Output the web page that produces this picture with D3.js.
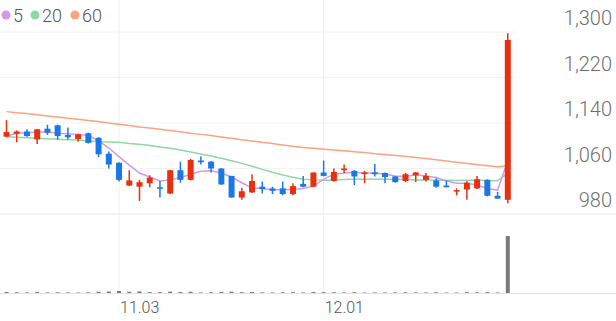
<!DOCTYPE html>
<html>
<head>
<meta charset="utf-8">
<script src="https://cdn.jsdelivr.net/npm/d3@7/dist/d3.min.js"></script>
<style>
  body { margin: 0; background: #fff; }
  text { font-family: Roboto, "Noto Sans", sans-serif; }
</style>
</head>
<body>
<div id="chart"></div>
<script>
const dates = ["10.17","10.20","10.21","10.22","10.23","10.24","10.27","10.28","10.29","10.30",
  "10.31","11.03","11.04","11.05","11.06","11.07","11.10","11.11","11.12","11.13",
  "11.14","11.17","11.18","11.19","11.20","11.21","11.24","11.25","11.26","11.27",
  "11.28","12.01","12.02","12.03","12.04","12.05","12.08","12.09","12.10","12.11",
  "12.12","12.15","12.16","12.17","12.18","12.19","12.22","12.23","12.24","12.26"];

const opens  = [1116,1121,1125,1111,1130,1136,1119,1112,1122,1114,1086,1070,1030,1028,1034,1027,1016,1057,1040,1074,
  1072,1060,1047,1009,1018,1028,1025,1025,1015,1033,1028,1053,1038,1057,1056,1052,1053,1052,1046,1038,
  1048,1040,1039,1030,1020,1023,1025,1040,1012,1005];
const highs  = [1145,1127,1129,1129,1137,1137,1132,1121,1123,1115,1090,1071,1057,1040,1048,1038,1058,1072,1077,1081,
  1073,1061,1047,1026,1050,1037,1028,1037,1034,1047,1053,1074,1060,1067,1057,1056,1068,1053,1047,1052,
  1054,1052,1043,1039,1025,1038,1047,1041,1019,1298];
const lows   = [1115,1106,1116,1103,1119,1111,1111,1107,1104,1080,1060,1037,1029,1003,1027,1009,1015,1035,1039,1067,
  1053,1031,1009,1005,1017,1016,1015,1013,1013,1027,1027,1046,1037,1052,1031,1034,1046,1034,1035,1036,
  1036,1037,1026,1027,1013,1005,1024,1011,1007,999];
const closes = [1124,1125,1117,1129,1123,1117,1115,1120,1105,1085,1067,1040,1039,1036,1044,1025,1057,1040,1075,1071,
  1060,1032,1009,1020,1038,1024,1021,1015,1029,1028,1053,1047,1054,1060,1046,1053,1050,1045,1036,1050,
  1053,1047,1028,1027,1022,1035,1041,1012,1007,1286];
const volumes = [210000,160000,120000,190000,110000,150000,120000,90000,140000,260000,300000,420000,260000,330000,180000,170000,280000,200000,260000,120000,
  150000,230000,280000,170000,220000,130000,110000,140000,160000,120000,200000,180000,150000,110000,160000,100000,120000,110000,130000,140000,
  120000,110000,150000,100000,90000,170000,140000,180000,120000,11800000];

const ma5  = [1117,1122,1123,1124,1124,1122,1121,1120,1118,1109,1096,1081,1066,1052,1045,1038,1040,1044,1050,1055,
  1056,1052,1045,1035,1026,1025,1022,1023,1023,1025,1029,1041,1050,1052,1053,1052,1052,1050,1047,1046,
  1049,1047,1044,1038,1034,1034,1031,1025,1022,1073];
const ma20 = [1116,1115,1114,1113,1112.5,1111.5,1110.5,1110,1109,1107,1106.5,1106,1104,1102.5,1100.5,1098,1095.5,1092.5,1089,1085.5,
  1082,1078,1073.5,1069,1064,1058.5,1053.5,1048.5,1044.5,1041,1040,1039.5,1039.5,1040.5,1041,1041,1041,1041,1041,1040.5,
  1040,1040,1039.5,1039.5,1039,1039.5,1039.5,1039,1038.5,1052];
const ma60 = [1160,1158,1156.5,1154.5,1152.5,1150.5,1148.5,1146.5,1144.5,1142.5,1140,1138,1135.5,1133,1131,1129,1127,1124.5,1122,1120,
  1118,1115.5,1113,1110.5,1108.5,1106,1104,1101.5,1099,1097,1095.5,1094,1092.5,1091,1089.5,1088,1086,1084.5,1083,1081.5,
  1079.5,1077.5,1075.5,1073,1071,1069,1067,1065,1063,1065];

const yTicks = [980, 1060, 1140, 1220, 1300];
const xTicks = ["11.03", "12.01"];
const maNames = ["5", "20", "60"];
const maColors = ["#d597ee", "#8fd8a2", "#fba283"];

const WIDTH = 616, HEIGHT = 321;
const UP = "#e8300f", DOWN = "#1a78e6";

var svg = d3.select("#chart").append("svg")
    .attr("width", WIDTH)
    .attr("height", HEIGHT);

var x = d3.scalePoint().domain(dates).range([6.5, 507.8]);
var y = d3.scaleLinear().domain([980, 1300]).range([214, 32]);
var yVol = d3.scaleLinear().domain([0, d3.max(volumes)]).range([293, 236]);

// grid
svg.append("g").selectAll("line")
    .data(yTicks.slice(1))
    .enter().append("line")
    .attr("x1", 0).attr("x2", 516)
    .attr("y1", d => y(d)).attr("y2", d => y(d))
    .attr("stroke", "#f2f2f2");

svg.append("line")
    .attr("x1", 0).attr("x2", WIDTH)
    .attr("y1", y(980)).attr("y2", y(980))
    .attr("stroke", "#e8e8e8");

svg.append("g").selectAll("line")
    .data(xTicks)
    .enter().append("line")
    .attr("x1", d => x(d)).attr("x2", d => x(d))
    .attr("y1", 0).attr("y2", 293)
    .attr("stroke", "#efefef");

svg.append("line")
    .attr("x1", 0).attr("x2", WIDTH)
    .attr("y1", 293.5).attr("y2", 293.5)
    .attr("stroke", "#e3e3e3");

// y labels
svg.append("g").selectAll("text")
    .data(yTicks)
    .enter().append("text")
    .attr("x", 612)
    .attr("y", d => y(d) - 7)
    .attr("text-anchor", "end")
    .attr("font-size", 20)
    .attr("font-weight", 300)
    .attr("fill", "#707070")
    .text(d => d3.format(",")(d));

// x labels
svg.append("g").selectAll("text")
    .data(xTicks)
    .enter().append("text")
    .attr("x", d => x(d) + 1)
    .attr("y", 313)
    .attr("font-size", 16)
    .attr("font-weight", 300)
    .attr("fill", "#555")
    .text(d => d);

// moving averages
var series = [ma5, ma20, ma60];
var line = d3.line().x((d, i) => x(dates[i])).y(d => y(d));
svg.append("g").selectAll("path")
    .data(series.slice().reverse())
    .enter().append("path")
    .attr("d", d => line(d))
    .attr("fill", "none")
    .attr("stroke", (d, i) => maColors[2 - i])
    .attr("stroke-width", 1.5);

// candles
var candles = svg.append("g").selectAll("g")
    .data(dates)
    .enter().append("g");

candles.append("line")
    .attr("x1", d => x(d)).attr("x2", d => x(d))
    .attr("y1", (d, i) => y(highs[i]))
    .attr("y2", (d, i) => y(lows[i]))
    .attr("stroke", (d, i) => closes[i] >= opens[i] ? UP : DOWN)
    .attr("stroke-width", 1.5);

candles.append("rect")
    .attr("x", d => x(d) - 3)
    .attr("width", 6)
    .attr("y", (d, i) => y(Math.max(opens[i], closes[i])))
    .attr("height", (d, i) => Math.max(1.5, Math.abs(y(opens[i]) - y(closes[i]))))
    .attr("fill", (d, i) => closes[i] >= opens[i] ? UP : DOWN);

// volume
svg.append("g").selectAll("rect")
    .data(volumes)
    .enter().append("rect")
    .attr("x", (d, i) => x(dates[i]) - 2)
    .attr("width", 4)
    .attr("y", d => yVol(d))
    .attr("height", d => 293 - yVol(d))
    .attr("fill", "#7a7a7a");

// legend
var legend = svg.append("g");
var lx = [6, 35, 75];
maNames.forEach((n, i) => {
    legend.append("circle")
        .attr("cx", lx[i]).attr("cy", 15).attr("r", 4.5)
        .attr("fill", maColors[i]);
    legend.append("text")
        .attr("x", lx[i] + 7).attr("y", 22)
        .attr("font-size", 18)
        .attr("font-weight", 300)
        .attr("fill", "#555")
        .text(n);
});
</script>
</body>
</html>
